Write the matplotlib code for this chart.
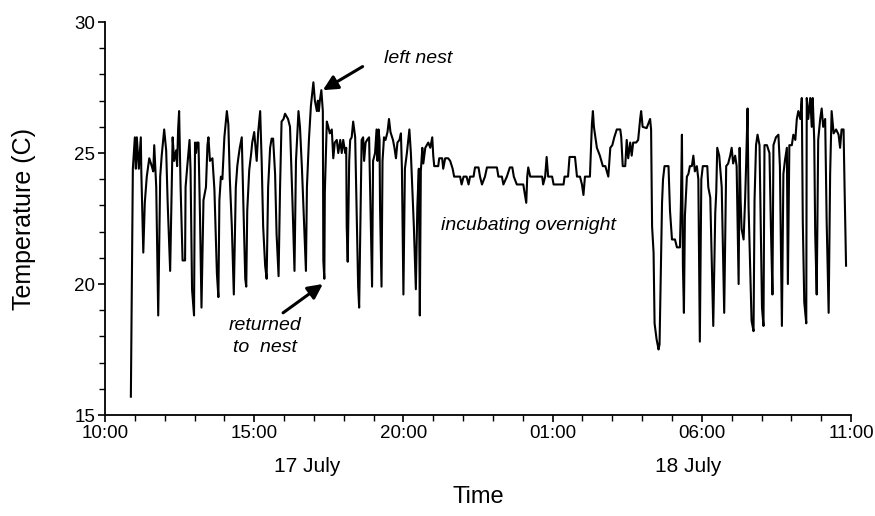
import matplotlib
matplotlib.use("Agg")
import matplotlib.pyplot as plt
from matplotlib.ticker import MultipleLocator, FuncFormatter
import numpy as np

plt.rcParams['font.family'] = ['Liberation Sans', 'DejaVu Sans']

# minutes after 10:00 on 17 July, nest temperature (C)
day1_min = [52, 54, 56, 60, 62, 64, 68, 72, 73, 77, 80, 84, 89, 94, 97, 99, 103, 107,
            111, 114, 119, 123, 126, 131, 134, 136, 139, 143, 145, 147, 149, 152, 156,
            161, 162, 165, 170, 172, 175, 179, 181, 183, 185, 188, 191, 194, 198, 203,
            206, 208, 211, 216, 220, 225, 228, 230, 233, 236, 240, 245, 248, 251, 255,
            259, 263, 266, 268, 271, 275, 278, 282, 284, 286, 290, 294, 296, 300, 305,
            308, 312, 315, 318, 322, 325, 328, 332, 335, 338, 342, 345, 349, 352, 355,
            359, 362, 368, 372, 377, 381, 384, 389, 392, 396, 400, 404, 406, 410, 414,
            419, 422, 426, 428, 430, 432, 435, 438, 439, 441, 442, 446, 449, 452, 456,
            459, 462, 466, 469, 473, 476, 479, 483, 485, 486, 488, 491, 493, 496, 499,
            503, 506, 509, 511, 514, 516, 519, 521, 524, 527, 531, 534, 537, 539, 543,
            546, 548, 550, 552, 553, 556, 558, 561, 564, 568, 571, 574, 579, 582, 585,
            588, 592, 595, 597, 600, 603, 607, 612, 615, 617, 621, 625, 628, 631, 633,
            635]
day1_temp = [15.7, 20.3, 24.4, 25.6, 24.4, 25.6, 24.4, 25.6, 24.3, 21.2, 23.1, 24.1, 24.8,
             24.5, 24.3, 25.3, 23.7, 18.8, 24.1, 24.9, 25.9, 25.1, 23.1, 20.5, 23.7, 25.6,
             24.7, 25.1, 24.5, 25.9, 26.6, 23.7, 20.9, 20.9, 23.7, 24.4, 25.5, 24.35, 19.8,
             18.8, 25.4, 25.0, 25.4, 25.4, 22.6, 19.1, 23.2, 23.7, 25.3, 25.6, 24.7, 24.8,
             23.6, 20.4, 19.5, 23.2, 24.1, 24.0, 25.6, 26.6, 26.1, 24.0, 22.2, 19.6, 23.7,
             24.5, 24.8, 25.2, 25.6, 23.2, 20.2, 19.9, 22.8, 24.35, 25.0, 25.4, 25.8, 24.7,
             25.8, 26.6, 24.7, 22.2, 20.7, 20.2, 23.7, 25.2, 25.55, 25.55, 24.2, 21.9, 20.3,
             23.7, 26.2, 26.3, 26.5, 26.3, 26.0, 23.1, 20.5, 24.7, 26.6, 26.0, 24.4, 22.4,
             20.5, 23.7, 25.5, 26.8, 27.7, 27.0, 26.6, 27.0, 26.6, 27.0, 27.4, 26.6, 20.9,
             20.2, 23.5, 26.2, 26.0, 25.75, 25.9, 24.8, 25.4, 25.5, 25.0, 25.5, 25.0, 25.5,
             25.0, 25.2, 22.2, 20.85, 24.7, 25.5, 25.6, 26.2, 25.6, 22.8, 19.9, 19.1, 22.8,
             25.5, 25.6, 24.7, 25.4, 25.5, 25.6, 22.8, 19.9, 24.7, 25.0, 25.9, 24.7, 25.9,
             25.5, 22.95, 19.9, 24.7, 25.6, 25.5, 25.8, 26.3, 25.8, 25.5, 25.2, 24.8, 25.4,
             25.5, 25.75, 24.4, 19.6, 24.4, 25.0, 25.9, 25.0, 24.1, 22.2, 19.8, 22.95, 24.4,
             18.8, 24.3]

night_min = [638, 640, 644, 647, 650, 654, 658, 660, 662, 670, 672, 678, 680, 684, 690,
             694, 699, 702, 714, 717, 721, 727, 731, 734, 741, 744, 751, 754, 758, 764,
             768, 788, 791, 798, 801, 808, 814, 819, 822, 828, 841, 847, 849, 851, 855,
             879, 881, 885, 888, 891, 899, 902, 922, 924, 931, 934, 945, 949, 955, 959,
             962, 965, 975, 979, 981, 983, 989, 995, 1001, 1006, 1012, 1016, 1020, 1024,
             1029, 1036, 1038, 1041, 1046, 1049, 1052, 1056, 1059, 1062, 1068, 1072, 1076,
             1078, 1081, 1089, 1096, 1098]
night_temp = [25.2, 24.6, 25.2, 25.3, 25.4, 25.2, 25.6, 24.9, 24.5, 24.5, 24.8, 24.8, 24.4,
              24.8, 24.8, 24.7, 24.4, 24.1, 24.1, 23.8, 24.1, 24.1, 23.8, 24.1, 24.1, 24.45,
              24.45, 24.1, 23.8, 24.1, 24.45, 24.45, 24.1, 24.1, 23.8, 24.1, 24.45, 24.45,
              24.1, 23.8, 23.8, 23.1, 24.1, 24.45, 24.1, 24.1, 23.8, 24.1, 24.85, 24.1, 24.1,
              23.8, 23.8, 24.1, 24.1, 24.85, 24.85, 24.1, 24.1, 23.8, 23.4, 24.1, 24.1, 26.1,
              26.6, 26.0, 25.2, 24.9, 24.5, 24.5, 24.1, 25.2, 25.3, 25.6, 25.9, 25.9, 25.6,
              24.5, 24.5, 25.5, 24.8, 25.4, 24.9, 25.4, 25.4, 25.5, 26.3, 26.6, 26.0, 25.95,
              26.3, 25.9]

day2_min = [1100, 1103, 1105, 1109, 1113, 1115, 1118, 1120, 1122, 1125, 1133, 1136, 1140,
            1146, 1150, 1156, 1158, 1160, 1162, 1164, 1166, 1170, 1173, 1176, 1180, 1183,
            1186, 1190, 1193, 1196, 1199, 1202, 1207, 1211, 1213, 1217, 1220, 1223, 1227,
            1229, 1231, 1235, 1240, 1245, 1249, 1253, 1257, 1260, 1263, 1267, 1270, 1274,
            1276, 1278, 1280, 1284, 1287, 1289, 1292, 1294, 1297, 1300, 1304, 1306, 1309,
            1312, 1316, 1321, 1324, 1326, 1331, 1336, 1339, 1342, 1344, 1349, 1354, 1357,
            1361, 1364, 1367, 1371, 1373, 1376, 1381, 1384, 1388, 1391, 1394, 1398, 1401,
            1403, 1406, 1410, 1411, 1414, 1418, 1421, 1423, 1426, 1428, 1431, 1434, 1438,
            1441, 1444, 1448, 1451, 1455, 1458, 1461, 1465, 1470, 1475, 1478, 1481, 1485,
            1487, 1490]
day2_temp = [22.2, 21.2, 18.5, 17.9, 17.5, 17.7, 20.9, 23.1, 24.0, 24.5, 24.5, 22.8, 21.7,
             21.7, 21.4, 21.4, 23.1, 25.7, 20.7, 18.9, 22.6, 24.1, 24.2, 24.5, 24.5, 24.9,
             24.3, 24.5, 24.0, 17.8, 24.0, 24.5, 24.5, 24.5, 23.7, 23.3, 20.8, 18.4, 22.7,
             23.5, 25.2, 24.9, 23.7, 18.9, 24.5, 24.6, 24.9, 25.2, 24.6, 24.9, 24.5, 20.0,
             25.2, 23.2, 22.1, 21.7, 23.2, 24.5, 26.7, 22.95, 20.7, 18.6, 18.2, 23.2, 25.3,
             25.7, 25.3, 19.1, 18.4, 25.3, 25.3, 25.0, 22.1, 19.6, 25.3, 25.6, 25.7, 24.5,
             18.4, 24.2, 24.7, 25.2, 20.0, 25.3, 25.3, 25.7, 25.5, 26.3, 26.6, 26.3, 27.1,
             22.4, 19.3, 18.5, 27.1, 26.3, 27.1, 26.0, 27.1, 25.5, 21.9, 19.6, 25.5, 26.3,
             26.7, 26.0, 26.3, 22.4, 18.9, 24.2, 26.6, 25.75, 25.9, 25.7, 25.2, 25.9, 25.9,
             23.7, 20.7]

minutes = np.array(day1_min + night_min + day2_min)
temp = np.array(day1_temp + night_temp + day2_temp)

fig = plt.figure(figsize=(8.75, 5.16), dpi=100)
ax = fig.add_axes([0.12, 0.1957, 0.8526, 0.7616])

ax.plot(minutes, temp, color='black', lw=1.5)

ax.set_xlim(0, 1500)
ax.set_ylim(15, 30)
for s in ['top', 'right']:
    ax.spines[s].set_visible(False)
for s in ['left', 'bottom']:
    ax.spines[s].set_linewidth(1.3)

ax.xaxis.set_major_locator(MultipleLocator(300))
ax.xaxis.set_minor_locator(MultipleLocator(60))
ax.xaxis.set_major_formatter(FuncFormatter(lambda m, p: f"{(10 + int(m) // 60) % 24:02d}:00"))
ax.yaxis.set_major_locator(MultipleLocator(5))
ax.yaxis.set_minor_locator(MultipleLocator(1))
ax.tick_params(which='major', length=5, width=1.2, labelsize=13.5, direction='out', pad=2)
ax.tick_params(which='minor', length=4, width=1.0, direction='out')

ax.set_ylabel('Temperature (C)', fontsize=18)
ax.yaxis.set_label_coords(-0.093, 0.5)
ax.set_xlabel('Time', fontsize=17)
ax.xaxis.set_label_coords(0.5, -0.18)

fig.text(0.351, 0.095, '17 July', fontsize=15, ha='center', va='center')
fig.text(0.786, 0.095, '18 July', fontsize=15, ha='center', va='center')

arrow = dict(arrowstyle='-|>', color='black', lw=2.2, mutation_scale=22, shrinkA=0, shrinkB=0)
ax.text(561, 28.6, 'left nest', fontsize=14, style='italic', ha='left', va='center')
ax.annotate('', xy=(438, 27.4), xytext=(518, 28.3), arrowprops=arrow)
ax.text(322, 18.0, 'returned\nto  nest', fontsize=14, style='italic', ha='center',
        va='center', linespacing=1.35)
ax.annotate('', xy=(438, 20.0), xytext=(358, 18.9), arrowprops=arrow)
ax.text(851, 22.25, 'incubating overnight', fontsize=14, style='italic', ha='center', va='center')

fig.savefig('out.png', dpi=100)
